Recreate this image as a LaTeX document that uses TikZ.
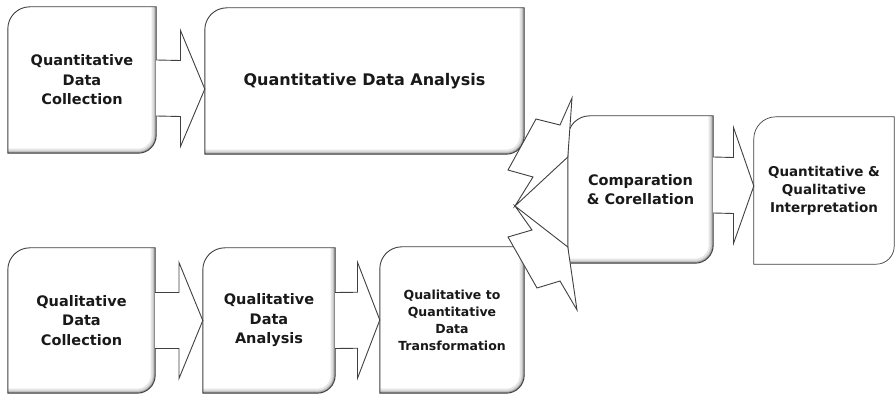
\documentclass[tikz,border=0pt]{standalone}
\usepackage{fontspec}
\setmainfont{DejaVu Sans}
\usetikzlibrary{calc,backgrounds}

\tikzset{
  stage/.style={inner sep=0pt, align=center, text=black!90,
    font=\bfseries\fontsize{14.5}{19.5}\selectfont},
  frame/.style={draw=black!75, line width=0.9pt},
  barrow/.style={draw=black!75, line width=0.9pt, fill=white, line join=miter},
}

% outline with rounded top left and bottom right corners
\newcommand{\framepath}[1]{(#1.south west) -- ([yshift=-22pt]#1.north west)
  arc[start angle=180,end angle=90,radius=22pt] -- (#1.north east)
  -- ([yshift=18pt]#1.south east) arc[start angle=0,end angle=-90,radius=18pt] -- cycle}
\newcommand{\shadepath}[1]{(#1.north east) -- ([yshift=18pt]#1.south east)
  arc[start angle=0,end angle=-90,radius=18pt] -- (#1.south west)}

\newcommand{\stagebox}[1]{%
  \fill[white] \framepath{#1};
  \begin{scope}
    \clip \framepath{#1};
    \draw[black!10, line width=9pt] \shadepath{#1};
    \draw[black!22, line width=5pt] \shadepath{#1};
    \draw[black!40, line width=2.5pt] \shadepath{#1};
  \end{scope}
  \draw[frame] \framepath{#1};
}

\newcommand{\blockarrow}[3][0]{%
  \coordinate (s) at ([yshift=#1pt]#2.east);
  \coordinate (t) at ([yshift=#1pt]#3.west);
  \coordinate (m) at ($(s)!.5!(t)$);
  \draw[barrow] ([yshift=28pt]s) -- ([yshift=28pt]m) -- ([yshift=58pt]m) -- (t)
    -- ([yshift=-58pt]m) -- ([yshift=-28pt]m) -- ([yshift=-28pt]s);
}

\begin{document}
\begin{tikzpicture}[x=1pt,y=-1pt]
\useasboundingbox (0,0) rectangle (895,395);

\node[stage, minimum width=148pt, minimum height=146pt] (qncoll) at (82,80) {Quantitative\\Data\\Collection};
\node[stage, minimum width=319pt, minimum height=146pt, font=\bfseries\fontsize{16}{20}\selectfont] (qnanal) at (364.5,81) {Quantitative Data Analysis};
\node[stage, minimum width=147pt, minimum height=145pt] (qlcoll) at (81.5,320.5) {Qualitative\\Data\\Collection};
\node[stage, minimum width=132pt, minimum height=145pt] (qlanal) at (269,320.5) {Qualitative\\Data\\Analysis};
\node[stage, minimum width=144pt, minimum height=146pt, font=\bfseries\fontsize{12.5}{17}\selectfont] (qltrans) at (452,320) {Qualitative to\\Quantitative\\Data\\Transformation};
\node[stage, minimum width=145pt, minimum height=147pt, font=\bfseries\fontsize{14.5}{19}\selectfont] (compare) at (640.5,189.5) {Comparation\\\& Corellation};
\node[stage, minimum width=140pt, minimum height=147pt, font=\bfseries\fontsize{13.5}{18}\selectfont] (interp) at (824,190.5) {Quantitative \&\\Qualitative\\Interpretation};

\begin{scope}[on background layer]
\stagebox{qncoll}
\stagebox{qnanal}
\stagebox{qlcoll}
\stagebox{qlanal}
\stagebox{qltrans}
\stagebox{compare}
\fill[white] \framepath{interp};
\draw[frame, line width=0.7pt] \framepath{interp};
\end{scope}

\blockarrow[-8]{qncoll}{qnanal}
\blockarrow{qlcoll}{qlanal}
\blockarrow{qlanal}{qltrans}
\blockarrow[4.5]{compare}{interp}

% the two arrows that meet at the comparation box
\draw[barrow] (515,206) -- (533,177) -- (508,170) -- (536,119) -- (560,125) -- (572,98)
  -- ([yshift=32.5pt]compare.west) -- cycle;
\draw[barrow] (515,206) -- (532,230) -- (508,237) -- (537,288) -- (560,281) -- (577,310)
  -- ([yshift=-57.5pt]compare.west) -- cycle;

\end{tikzpicture}
\end{document}
